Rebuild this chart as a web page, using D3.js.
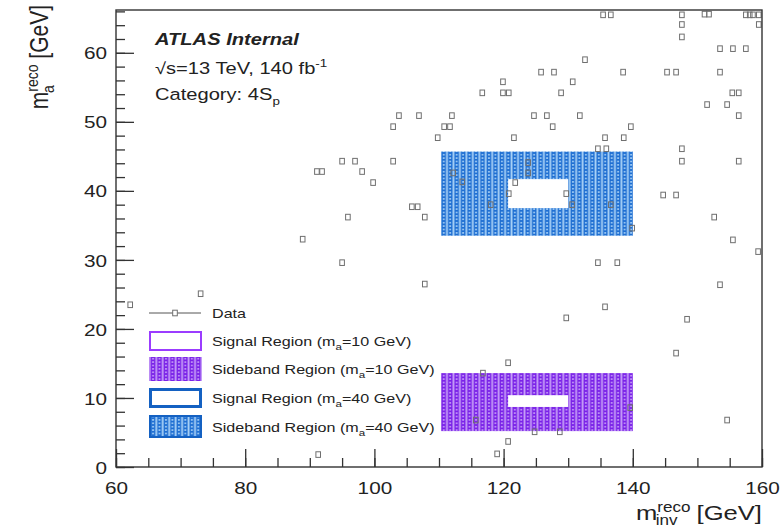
<!DOCTYPE html>
<html>
<head>
<meta charset="utf-8">
<script src="https://cdn.jsdelivr.net/npm/d3@7"></script>
<style>
  body { margin: 0; background: #fff; }
  svg { display: block; }
  text { font-family: "Liberation Sans", Arial, Helvetica, sans-serif; fill: #222; }
</style>
</head>
<body>
<svg id="chart" width="783" height="529"></svg>
<script>
// Selected events: reconstructed invariant mass (x) vs reconstructed m_a (y), in GeV
const dataMinv = [
  62.2, 73.1, 88.9, 91.1, 91.9, 95.0, 97.0, 102.9, 98.1, 99.8,
  105.8, 106.7, 107.8, 95.9, 95.0, 107.8, 91.3, 132.6, 125.8, 127.8,
  119.9, 130.7, 116.7, 119.9, 120.8, 128.9, 103.8, 106.9, 112.0, 124.7,
  126.7, 131.8, 102.9, 110.8, 111.7, 127.6, 109.8, 121.6, 135.7, 138.6,
  134.6, 135.9, 139.7, 135.4, 136.6, 138.5, 145.3, 146.7, 153.5, 147.6,
  147.6, 147.6, 151.1, 151.8, 153.5, 155.5, 157.5, 157.5, 158.1, 158.6,
  159.5, 159.5, 155.4, 156.4, 151.5, 154.6, 156.4, 147.6, 147.6, 156.4,
  144.7, 146.7, 152.6, 155.5, 159.4, 134.6, 137.6, 153.5, 135.7, 148.4,
  146.7, 154.6, 123.8, 112.2, 113.6, 123.8, 121.8, 120.8, 129.7, 118.0,
  130.6, 136.6, 139.9, 129.7, 120.7, 116.8, 124.8, 128.7, 120.7, 119.0,
  115.7, 139.6
];
const dataMa = [
  23.5, 25.1, 33.0, 42.8, 42.8, 44.3, 44.3, 44.3, 42.8, 41.2,
  37.7, 37.7, 36.2, 36.2, 29.6, 26.5, 1.8, 59.0, 57.2, 57.2,
  55.8, 55.8, 54.2, 54.2, 54.2, 54.2, 50.9, 50.9, 50.9, 50.9,
  50.9, 50.9, 49.3, 49.3, 49.3, 49.3, 47.7, 47.7, 47.7, 47.7,
  46.1, 46.1, 49.3, 65.5, 65.5, 57.2, 57.2, 57.2, 57.2, 65.5,
  64.1, 62.3, 65.6, 65.6, 60.6, 60.6, 60.6, 65.5, 65.5, 65.5,
  65.5, 64.1, 54.2, 54.2, 52.5, 52.5, 50.9, 46.1, 44.3, 44.3,
  39.4, 39.4, 36.2, 32.9, 31.2, 29.6, 29.6, 26.4, 23.2, 21.4,
  16.5, 6.8, 44.1, 42.6, 41.3, 42.6, 41.2, 39.6, 39.6, 38.0,
  38.0, 38.0, 34.6, 21.6, 15.1, 13.6, 5.1, 5.1, 3.7, 1.9,
  6.8, 8.6
];

// Region windows [low, high] in GeV
const sidebandMinv = [110.3, 140.0];
const signalMinv   = [120.7, 130.0];
const sidebandMa10 = [5.2, 13.6];
const signalMa10   = [8.7, 10.4];
const sidebandMa40 = [33.5, 45.7];
const signalMa40   = [37.5, 41.7];

// Axis ticks
const xTicks = [60, 80, 100, 120, 140, 160];
const yTicks = [0, 10, 20, 30, 40, 50, 60];
const xMinorTicks = d3.range(60, 161, 5);
const yMinorTicks = d3.range(0, 67, 2);

// Legend labels: [text before subscript, subscript, text after]
const legendLabels = [
  ["Signal Region (m", "a", "=10 GeV)"],
  ["Sideband Region (m", "a", "=10 GeV)"],
  ["Signal Region (m", "a", "=40 GeV)"],
  ["Sideband Region (m", "a", "=40 GeV)"]
];

const SX = 1.22;               // horizontal stretch of the lettering
const purpleDark = "#7a22e8", purpleLight = "#c7a0f8", purpleLine = "#9b3cff";
const blueDark = "#1f6fd2", blueLight = "#a9d2f7", blueLine = "#1461c2";
const axisColor = "#333";

const svg = d3.select("#chart");
const x = d3.scaleLinear().domain([60, 160]).range([116, 762]);
const y = d3.scaleLinear().domain([0, 66.2]).range([467, 10]);

// Hatched fills for the sideband regions
const defs = svg.append("defs");
const colW = x(61) - x(60);
function makePattern(id, dark, light) {
  const h = 3.4;
  const p = defs.append("pattern")
    .attr("id", id)
    .attr("patternUnits", "userSpaceOnUse")
    .attr("x", x(sidebandMinv[0]))
    .attr("y", 0)
    .attr("width", colW)
    .attr("height", h);
  p.append("rect").attr("width", colW).attr("height", h).attr("fill", light);
  p.append("rect").attr("x", 0.5).attr("width", 4.6).attr("height", h).attr("fill", dark);
  p.append("ellipse").attr("cx", 2.8).attr("cy", h / 2).attr("rx", 1.1).attr("ry", 0.8).attr("fill", light);
}
makePattern("hatchPurple", purpleDark, purpleLight);
makePattern("hatchBlue", blueDark, blueLight);

defs.append("clipPath").attr("id", "plotClip")
  .append("rect")
  .attr("x", x(60)).attr("y", y(66.2))
  .attr("width", x(160) - x(60)).attr("height", y(0) - y(66.2));

const plot = svg.append("g").attr("clip-path", "url(#plotClip)");

// Sideband bands with the signal window cut out
function region(sbY, srY, patternId) {
  plot.append("rect")
    .attr("x", x(sidebandMinv[0])).attr("y", y(sbY[1]))
    .attr("width", x(sidebandMinv[1]) - x(sidebandMinv[0]))
    .attr("height", y(sbY[0]) - y(sbY[1]))
    .attr("fill", `url(#${patternId})`);
  plot.append("rect")
    .attr("x", x(signalMinv[0])).attr("y", y(srY[1]))
    .attr("width", x(signalMinv[1]) - x(signalMinv[0]))
    .attr("height", y(srY[0]) - y(srY[1]))
    .attr("fill", "#fff");
}
region(sidebandMa40, signalMa40, "hatchBlue");
region(sidebandMa10, signalMa10, "hatchPurple");

// Data markers: open squares
const pts = dataMinv.map((v, i) => [v, dataMa[i]]);
const mw = 4.6, mh = 5.6;
plot.selectAll("rect.pt").data(pts).join("rect")
  .attr("class", "pt")
  .attr("x", d => x(d[0]) - mw / 2)
  .attr("y", d => y(d[1]) - mh / 2)
  .attr("width", mw).attr("height", mh)
  .attr("fill", "none")
  .attr("stroke", "#6f6f6f")
  .attr("stroke-width", 1);

// Axes (ticks point into the frame)
function styleAxis(g) {
  g.select(".domain").remove();
  g.selectAll("line").attr("stroke", axisColor).attr("stroke-width", 1.3);
}
svg.append("g").attr("transform", `translate(0,${y(0)})`)
  .call(d3.axisBottom(x).tickValues(xMinorTicks).tickSize(-9).tickFormat(""))
  .call(styleAxis);
const gx = svg.append("g").attr("transform", `translate(0,${y(0)})`)
  .call(d3.axisBottom(x).tickValues(xTicks).tickSize(-18).tickFormat(d3.format("d")))
  .call(styleAxis);
gx.selectAll("text")
  .attr("y", 27).attr("dy", 0)
  .attr("transform", `scale(${SX},1)`)
  .style("font-size", "17px").attr("fill", "#222");

svg.append("g").attr("transform", `translate(${x(60)},0)`)
  .call(d3.axisLeft(y).tickValues(yMinorTicks.filter(v => v <= 66)).tickSize(-9).tickFormat(""))
  .call(styleAxis);
const gy = svg.append("g").attr("transform", `translate(${x(60)},0)`)
  .call(d3.axisLeft(y).tickValues(yTicks).tickSize(-18).tickFormat(d3.format("d")))
  .call(styleAxis);
gy.selectAll("text")
  .attr("x", -9 / SX).attr("dy", "0.36em")
  .attr("transform", `scale(${SX},1)`)
  .style("font-size", "17px").attr("fill", "#222");

// Frame
svg.append("rect")
  .attr("x", x(60)).attr("y", y(66.2))
  .attr("width", x(160) - x(60)).attr("height", y(0) - y(66.2))
  .attr("fill", "none").attr("stroke", axisColor).attr("stroke-width", 1.4);

// Axis titles (superscript "reco" stacked over the subscript)
const xt = svg.append("text")
  .attr("transform", `translate(762,520) scale(${SX},1)`)
  .attr("text-anchor", "end")
  .style("font-size", "21px");
xt.append("tspan").text("m");
xt.append("tspan").attr("dy", -8).style("font-size", "14px").text("reco");
xt.append("tspan").attr("dx", -28.6).attr("dy", 13).style("font-size", "14px").text("inv");
xt.append("tspan").attr("dx", 9.8).attr("dy", -5).text(" [GeV]");

const yt = svg.append("text")
  .attr("transform", `translate(48,5) rotate(-90) scale(1,${SX})`)
  .attr("text-anchor", "end")
  .style("font-size", "21px");
yt.append("tspan").text("m");
yt.append("tspan").attr("dy", -8).style("font-size", "14px").text("reco");
yt.append("tspan").attr("dx", -28.6).attr("dy", 13).style("font-size", "14px").text("a");
yt.append("tspan").attr("dx", 20.8).attr("dy", -5).text(" [GeV]");

// Header
function sText(px, py, size) {
  return svg.append("text")
    .attr("transform", `translate(${px},${py}) scale(${SX},1)`)
    .style("font-size", size + "px");
}
sText(155, 45, 16.5).style("font-weight", "bold").style("font-style", "italic").text("ATLAS Internal");
const t2 = sText(155, 74, 16.5);
t2.append("tspan").text("√s=13 TeV, 140 fb");
t2.append("tspan").attr("dy", -7).style("font-size", "11px").text("-1");
const t3 = sText(155, 100, 16.5);
t3.append("tspan").text("Category: 4S");
t3.append("tspan").attr("dy", 5).style("font-size", "11px").text("p");

// Legend
const lg = svg.append("g");
lg.append("line").attr("x1", 149).attr("x2", 201).attr("y1", 313).attr("y2", 313)
  .attr("stroke", "#555").attr("stroke-width", 1);
lg.append("rect").attr("x", 175 - mw / 2).attr("y", 313 - mh / 2).attr("width", mw).attr("height", mh)
  .attr("fill", "#fff").attr("stroke", "#6f6f6f");
sText(212, 318, 13.2).text("Data");

const boxes = [
  { y0: 331, h: 20, fill: "#fff", stroke: purpleLine, sw: 2 },
  { y0: 357, h: 24, fill: "url(#hatchPurple)", stroke: "none", sw: 0 },
  { y0: 388, h: 20, fill: "#fff", stroke: blueLine, sw: 3 },
  { y0: 415, h: 23, fill: "url(#hatchBlue)", stroke: blueLine, sw: 2 }
];
boxes.forEach((b, i) => {
  lg.append("rect")
    .attr("x", 149 + b.sw / 2).attr("y", b.y0 + b.sw / 2)
    .attr("width", 53 - b.sw).attr("height", b.h - b.sw)
    .attr("fill", b.fill).attr("stroke", b.stroke).attr("stroke-width", b.sw);
  const t = sText(212, b.y0 + b.h / 2 + 5, 13.2);
  t.append("tspan").text(legendLabels[i][0]);
  t.append("tspan").attr("dy", 4).style("font-size", "9.5px").text(legendLabels[i][1]);
  t.append("tspan").attr("dy", -4).text(legendLabels[i][2]);
});
</script>
</body>
</html>
